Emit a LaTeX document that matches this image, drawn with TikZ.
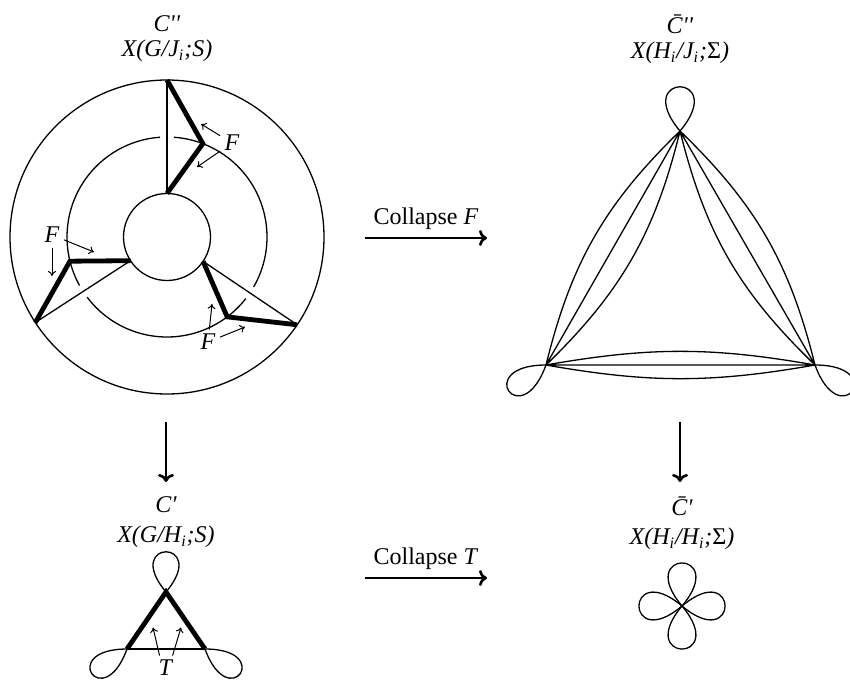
\documentclass[tikz,border=0pt]{standalone}
\usepackage{fontspec}
\setmainfont{Liberation Serif}
\usetikzlibrary{arrows.meta, positioning, calc}

\newcommand{\loopat}[4]{\draw (#1) .. controls +(#2:#4) and +(#3:#4) .. (#1);}

\begin{document}
\begin{tikzpicture}[x=0.5pt, y=0.5pt, line width=0.65pt,
    fat/.style={line width=2.4pt},
    map/.style={line width=1.3pt, -{To[length=4pt,width=8pt]}},
    tag/.style={line width=0.5pt, -{To[length=2.5pt,width=4pt]}, shorten <=1pt},
    lbl/.style={inner sep=1pt},
    every node/.style={font=\fontsize{12}{14}\selectfont}]
  \useasboundingbox (0,0) rectangle (850,682);
  % top left: C''
  \node (cpp) at (167,658) {\textit{C\textquotesingle\textquotesingle}};
  \node (xg) at (167,631) {\textit{X(G/J\textsubscript{i};S)}};
  \coordinate (O) at (167,445);
  \draw (O) circle[radius=157];
  \draw (O) circle[radius=43.5];
  \foreach \a/\b in {94/209, 217/322, 330/446}
    \draw ($(O)+(\a:100)$) arc[start angle=\a, end angle=\b, radius=100];
  \foreach \a/\m in {90/69, 213/194, 326/307} {
    \draw ($(O)+(\a:43.5)$) -- ($(O)+(\a:157)$);
    \draw[fat] ($(O)+(\a:157)$) -- ($(O)+(\m:100)$) -- ($(O)+(\a:43.5)$);
  }
  \node[lbl] (f1) at (232,539) {\textit{F}};
  \draw[tag] (f1) -- ++(-31,19);
  \draw[tag] (f1) -- ++(-35,-24);
  \node[lbl] (f2) at (52,447) {\textit{F}};
  \draw[tag] (f2) -- ++(42,-17);
  \draw[tag] (f2) -- ++(0,-41);
  \node[lbl] (f3) at (208,340) {\textit{F}};
  \draw[tag] (f3) -- ++(37,15);
  \draw[tag] (f3) -- ++(4,38);
  % top right: C-bar''
  \node (cbpp) at (680,658) {\textit{\={C}\textquotesingle\textquotesingle}};
  \node (xh) at (680,629) {\textit{X(H\textsubscript{i}/J\textsubscript{i};}Σ\textit{)}};
  \coordinate (a) at (680,551);
  \coordinate (b) at (546,317);
  \coordinate (c) at (815,317);
  \foreach \u/\v/\k in {a/b/16, b/c/10, c/a/16}
    \draw (\u) to[bend left=\k] (\v) (\u) -- (\v) (\u) to[bend right=\k] (\v);
  \loopat{a}{50}{130}{77}
  \loopat{b}{180}{250}{74}
  \loopat{c}{0}{-70}{74}
  % maps
  \coordinate (h1) at (365,444);
  \coordinate (h2) at (487,444);
  \draw[map] (h1) -- node[above] {Collapse \textit{F}} (h2);
  \coordinate (h3) at (365,104);
  \coordinate (h4) at (487,104);
  \draw[map] (h3) -- node[above] {Collapse \textit{T}} (h4);
  \coordinate (v1) at (166,260);
  \coordinate (v2) at (166,200);
  \draw[map] (v1) -- (v2);
  \coordinate (v3) at (680,260);
  \coordinate (v4) at (680,200);
  \draw[map] (v3) -- (v4);
  % bottom left: C'
  \node (cp) at (166,177) {\textit{C\textquotesingle}};
  \node (xgh) at (166,145) {\textit{X(G/H\textsubscript{i};S)}};
  \coordinate (t) at (166,90);
  \coordinate (l) at (127,33);
  \coordinate (r) at (205,33);
  \draw (l) -- (r);
  \draw[fat] (l) -- (t) -- (r);
  \loopat{t}{50}{130}{70}
  \loopat{l}{180}{250}{70}
  \loopat{r}{0}{-70}{70}
  \node[lbl] (tt) at (166,14) {\textit{T}};
  \draw[tag] ([xshift=-3pt]tt.north) -- ++(-7,30);
  \draw[tag] ([xshift=3pt]tt.north) -- ++(9,30);
  % bottom right: C-bar'
  \node (cbp) at (682,176) {\textit{\={C}\textquotesingle}};
  \node (xhh) at (682,143) {\textit{X(H\textsubscript{i}/H\textsubscript{i};}Σ\textit{)}};
  \coordinate (fl) at (682,76);
  \foreach \d in {0,90,180,270} {\loopat{fl}{\d-40}{\d+40}{75}}
\end{tikzpicture}
\end{document}
